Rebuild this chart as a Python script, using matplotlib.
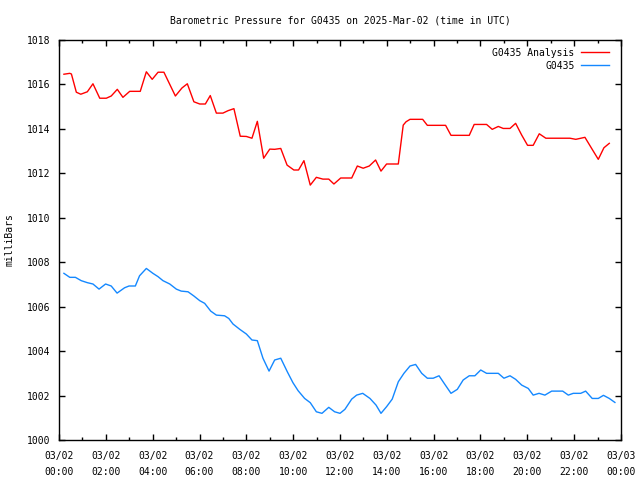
import matplotlib
matplotlib.use("Agg")
import matplotlib.pyplot as plt
from matplotlib.ticker import MultipleLocator

# hours after 03/02 00:00 UTC, pressure in mb
horasAnalisis = [0.21, 0.46, 0.53, 0.74, 0.93, 1.21, 1.45, 1.74, 2.02, 2.23, 2.49, 2.73,
                 3.02, 3.47, 3.73, 3.98, 4.23, 4.48, 4.97, 5.25, 5.48, 5.76, 6.01, 6.25,
                 6.46, 6.72, 7.00, 7.22, 7.47, 7.74, 8.00, 8.24, 8.47, 8.74, 9.00, 9.21,
                 9.47, 9.74, 10.03, 10.23, 10.46, 10.73, 10.99, 11.27, 11.52, 11.74, 12.03,
                 12.50, 12.74, 12.99, 13.25, 13.52, 13.75, 13.99, 14.49, 14.70, 14.82, 14.99,
                 15.53, 15.73, 16.51, 16.74, 17.52, 17.73, 18.26, 18.50, 18.76, 18.97, 19.26,
                 19.50, 19.76, 20.01, 20.25, 20.51, 20.79, 21.82, 22.07, 22.46, 22.77, 23.03,
                 23.27, 23.50]
presionAnalisis = [1016.46, 1016.50, 1016.47, 1015.65, 1015.56, 1015.67, 1016.03, 1015.38,
                   1015.38, 1015.48, 1015.78, 1015.42, 1015.69, 1015.69, 1016.57, 1016.23,
                   1016.55, 1016.55, 1015.48, 1015.84, 1016.03, 1015.22, 1015.12, 1015.12,
                   1015.50, 1014.71, 1014.71, 1014.82, 1014.91, 1013.67, 1013.66, 1013.58,
                   1014.34, 1012.68, 1013.09, 1013.08, 1013.12, 1012.37, 1012.15, 1012.15,
                   1012.57, 1011.47, 1011.82, 1011.74, 1011.74, 1011.52, 1011.79, 1011.79,
                   1012.33, 1012.23, 1012.33, 1012.60, 1012.10, 1012.42, 1012.42, 1014.17,
                   1014.32, 1014.43, 1014.43, 1014.16, 1014.16, 1013.71, 1013.71, 1014.20,
                   1014.20, 1013.98, 1014.11, 1014.02, 1014.02, 1014.25, 1013.72, 1013.26,
                   1013.26, 1013.78, 1013.58, 1013.58, 1013.53, 1013.62, 1013.08, 1012.63,
                   1013.15, 1013.35]

horasEstacion = [0.21, 0.46, 0.70, 0.95, 1.21, 1.45, 1.71, 1.99, 2.23, 2.48, 2.80, 2.99,
                 3.26, 3.44, 3.73, 4.01, 4.23, 4.44, 4.73, 5.01, 5.22, 5.51, 5.76, 6.01,
                 6.22, 6.48, 6.72, 7.07, 7.25, 7.43, 7.72, 8.00, 8.24, 8.47, 8.71, 8.97,
                 9.21, 9.47, 9.75, 9.99, 10.21, 10.49, 10.73, 10.99, 11.23, 11.52, 11.77,
                 12.00, 12.21, 12.50, 12.71, 12.97, 13.28, 13.54, 13.75, 13.99, 14.23, 14.49,
                 14.73, 14.99, 15.23, 15.49, 15.73, 15.98, 16.23, 16.48, 16.74, 17.01, 17.26,
                 17.52, 17.76, 18.01, 18.26, 18.76, 19.00, 19.26, 19.50, 19.76, 20.04, 20.25,
                 20.50, 20.75, 21.04, 21.51, 21.75, 21.96, 22.28, 22.49, 22.77, 23.03, 23.25,
                 23.50, 23.74]
presionEstacion = [1007.50, 1007.32, 1007.32, 1007.17, 1007.08, 1007.02, 1006.79, 1007.02,
                   1006.93, 1006.61, 1006.85, 1006.93, 1006.93, 1007.39, 1007.72, 1007.50,
                   1007.35, 1007.17, 1007.02, 1006.79, 1006.70, 1006.67, 1006.48, 1006.27,
                   1006.15, 1005.80, 1005.62, 1005.59, 1005.47, 1005.22, 1004.98, 1004.77,
                   1004.50, 1004.47, 1003.68, 1003.10, 1003.60, 1003.68, 1003.07, 1002.58,
                   1002.22, 1001.87, 1001.68, 1001.27, 1001.20, 1001.47, 1001.27, 1001.20,
                   1001.38, 1001.84, 1002.02, 1002.10, 1001.87, 1001.57, 1001.20, 1001.50,
                   1001.84, 1002.62, 1003.00, 1003.33, 1003.40, 1003.00, 1002.78, 1002.78,
                   1002.89, 1002.50, 1002.10, 1002.28, 1002.70, 1002.89, 1002.89, 1003.15,
                   1003.00, 1003.00, 1002.78, 1002.89, 1002.73, 1002.47, 1002.32, 1002.02,
                   1002.10, 1002.02, 1002.20, 1002.20, 1002.02, 1002.10, 1002.10, 1002.20,
                   1001.87, 1001.87, 1002.01, 1001.87, 1001.69]

posTicks = list(range(0, 25, 2))
etiquetasX = ["03/02\n%02d:00" % h for h in range(0, 24, 2)] + ["03/03\n00:00"]

plt.rcParams['font.family'] = 'DejaVu Sans Mono'
plt.rcParams['font.size'] = 7

fig = plt.figure(figsize=(6.4, 4.8), dpi=100)
ax = fig.add_axes([59/640, 40/480, 562/640, 400/480])

ax.plot(horasAnalisis, presionAnalisis, color='#ff0000', lw=1.0, label='G0435 Analysis')
ax.plot(horasEstacion, presionEstacion, color='#1488ff', lw=1.0, label='G0435')

ax.set_xlim(0, 24)
ax.set_ylim(1000, 1018)
ax.set_xticks(posTicks)
ax.set_xticklabels(etiquetasX, linespacing=1.75)
ax.xaxis.set_minor_locator(MultipleLocator(1))
ax.set_yticks(range(1000, 1019, 2))
ax.tick_params(which='both', direction='in', top=True, right=True, color='black')
ax.tick_params(which='major', length=4.5, width=1)
ax.tick_params(which='minor', length=2.5, width=1)
ax.tick_params(axis='x', pad=8)
ax.tick_params(axis='y', pad=6)
for s in ax.spines.values():
    s.set_linewidth(1)

ax.set_title('Barometric Pressure for G0435 on 2025-Mar-02 (time in UTC)', fontsize=7, pad=12)
ax.set_ylabel('milliBars', labelpad=9)

leg = ax.legend(loc='upper right', bbox_to_anchor=(1 - 4/562, 1), frameon=False,
                markerfirst=False, handlelength=2.9, handletextpad=0.65,
                labelspacing=0.3, borderaxespad=0.4)
for t in leg.get_texts():
    t.set_ha('right')

fig.savefig('out.png', dpi=100)
